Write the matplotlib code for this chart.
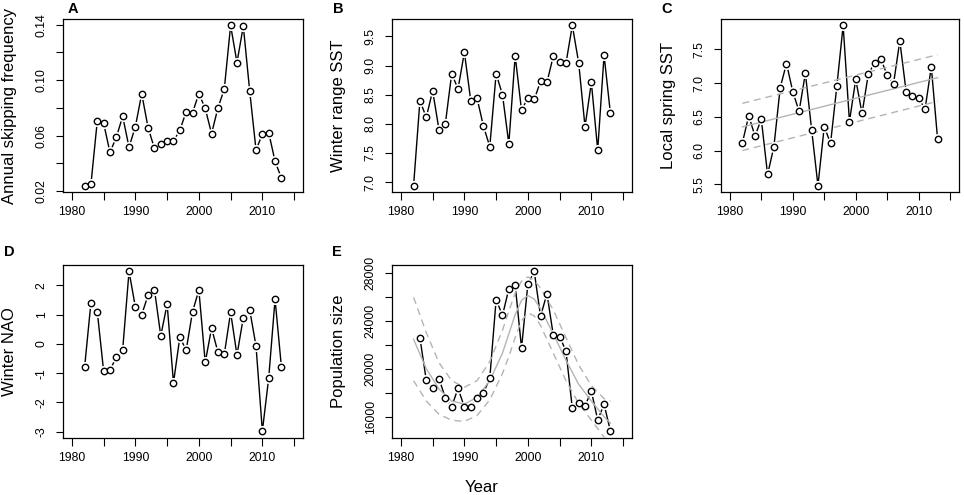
import matplotlib.pyplot as plt

plt.rcParams['font.family'] = ['Liberation Sans', 'DejaVu Sans']

# --- data ---
years = list(range(1982, 2014))

skipping = [0.0239, 0.0249, 0.0706, 0.0689, 0.0478, 0.0589, 0.0738, 0.0516,
            0.0665, 0.0901, 0.0658, 0.0507, 0.0541, 0.0560, 0.0560, 0.0638,
            0.0772, 0.0765, 0.0903, 0.0796, 0.0614, 0.0799, 0.0935, 0.1395,
            0.1127, 0.1390, 0.0923, 0.0497, 0.0609, 0.0621, 0.0414, 0.0293]

winter_range_sst = [6.94, 8.40, 8.11, 8.57, 7.90, 8.00, 8.86, 8.60,
                    9.23, 8.40, 8.44, 7.96, 7.61, 8.86, 8.50, 7.66,
                    9.17, 8.23, 8.45, 8.42, 8.73, 8.71, 9.16, 9.06,
                    9.04, 9.69, 9.05, 7.95, 8.71, 7.55, 9.18, 8.18]

spring_sst = [6.115, 6.515, 6.215, 6.465, 5.645, 6.055, 6.93, 7.29,
              6.875, 6.58, 7.145, 6.305, 5.48, 6.355, 6.105, 6.955,
              7.855, 6.43, 7.055, 6.55, 7.135, 7.30, 7.355, 7.115,
              6.99, 7.625, 6.875, 6.805, 6.78, 6.61, 7.24, 6.17]

winter_nao = [-0.80, 1.41, 1.10, -0.93, -0.885, -0.46, -0.195, 2.48,
              1.26, 1.00, 1.67, 1.86, 0.28, 1.36, -1.33, 0.23,
              -0.21, 1.10, 1.84, -0.63, 0.54, -0.28, -0.36, 1.08,
              -0.38, 0.90, 1.17, -0.07, -2.98, -1.16, 1.53, -0.79]

pop_years = list(range(1983, 2014))
pop_size = [22560, 19030, 18410, 19170, 17570, 16840, 18354, 16810,
            16840, 17513, 17960, 19195, 25757, 24440, 26654, 26990,
            21719, 27047, 28112, 24355, 26262, 22813, 22672, 21467,
            16700, 17177, 16897, 18130, 15718, 17036, 14793]

# trend line and band in panel C
sst_fit_years = [1982, 2013]
sst_fit = [6.35, 7.08]
sst_fit_hi = [6.70, 7.42]
sst_fit_lo = [6.00, 6.73]

# smooth trend and band in panel E
pop_fit_years = [1982, 1984, 1986, 1988, 1990, 1992, 1994, 1996, 1997,
                 1998, 1999, 2000, 2001, 2002, 2004, 2006, 2008, 2010,
                 2012, 2013]
pop_fit = [22450, 20000, 18300, 17300, 17050, 17600, 19000, 21300, 22900,
           24500, 25700, 26100, 25800, 25000, 22900, 20700, 18700, 17300,
           16000, 15450]
pop_fit_hi = [25950, 23000, 20500, 19000, 18450, 19000, 20600, 23200, 24800,
              26300, 27300, 27650, 27400, 26700, 24900, 22600, 20300, 18600,
              17500, 17300]
pop_fit_lo = [19000, 17300, 16200, 15700, 15600, 16100, 17400, 19600, 21000,
              22600, 24000, 24650, 24400, 23600, 21300, 19000, 17100, 15700,
              14300, 13600]

GREY = '#b4b4b4'
W, H = 964, 495


def r_range(v):
    lo, hi = min(v), max(v)
    d = (hi - lo) * 0.04
    return lo - d, hi + d


def make_axes(fig, left, top, right, bottom):
    return fig.add_axes([left / W, 1 - bottom / H, (right - left) / W, (bottom - top) / H])


def style(ax, yticks, ylabels, ylabel, yvals):
    ax.set_xlim(1978.6, 2016.4)
    ax.set_ylim(*r_range(yvals))
    ax.set_xticks(range(1980, 2016, 5))
    ax.set_xticklabels(['1980', '', '1990', '', '2000', '', '2010', ''])
    ax.set_yticks(yticks)
    ax.set_yticklabels(ylabels, rotation=90, va='center')
    ax.tick_params(direction='out', length=5.4, width=0.8, labelsize=8.8,
                   pad=5, color='black')
    ax.tick_params(axis='y', pad=5.5)
    for s in ax.spines.values():
        s.set_linewidth(0.9)
    ax.set_ylabel(ylabel, fontsize=12)
    ax.yaxis.set_label_coords(-0.19, 0.5)


def draw_series(ax, x, y):
    ax.plot(x, y, color='black', lw=1.0, zorder=2)
    ax.plot(x, y, 'o', ms=8, mfc='white', mec='none', zorder=3)
    ax.plot(x, y, 'o', ms=4.6, mfc='white', mec='black', mew=1.0, zorder=4)


fig = plt.figure(figsize=(W / 100, H / 100), dpi=100)

# A
ax = make_axes(fig, 63, 19, 303, 192)
draw_series(ax, years, skipping)
style(ax, [0.02, 0.04, 0.06, 0.08, 0.10, 0.12, 0.14],
      ['0.02', '', '0.06', '', '0.10', '', '0.14'],
      'Annual skipping frequency', skipping)

# B
ax = make_axes(fig, 392, 19, 632, 192)
draw_series(ax, years, winter_range_sst)
style(ax, [7.0, 7.5, 8.0, 8.5, 9.0, 9.5],
      ['7.0', '7.5', '8.0', '8.5', '9.0', '9.5'],
      'Winter range SST', winter_range_sst)

# C
ax = make_axes(fig, 721, 19, 959, 192)
draw_series(ax, years, spring_sst)
ax.plot(sst_fit_years, sst_fit, color=GREY, lw=1.0, zorder=3.5)
ax.plot(sst_fit_years, sst_fit_hi, color=GREY, lw=1.0, dashes=(5, 3.5), zorder=3.5)
ax.plot(sst_fit_years, sst_fit_lo, color=GREY, lw=1.0, dashes=(5, 3.5), zorder=3.5)
style(ax, [5.5, 6.0, 6.5, 7.0, 7.5],
      ['5.5', '6.0', '6.5', '7.0', '7.5'],
      'Local spring SST', spring_sst)

# D
ax = make_axes(fig, 63, 265, 303, 437.5)
draw_series(ax, years, winter_nao)
style(ax, [-3, -2, -1, 0, 1, 2],
      ['-3', '-2', '-1', '0', '1', '2'],
      'Winter NAO', winter_nao)

# E
ax = make_axes(fig, 392, 265, 632, 437.5)
draw_series(ax, pop_years, pop_size)
ax.plot(pop_fit_years, pop_fit, color=GREY, lw=1.0, zorder=3.5)
ax.plot(pop_fit_years, pop_fit_hi, color=GREY, lw=1.0, dashes=(5, 3.5), zorder=3.5)
ax.plot(pop_fit_years, pop_fit_lo, color=GREY, lw=1.0, dashes=(5, 3.5), zorder=3.5)
style(ax, [16000, 18000, 20000, 22000, 24000, 26000, 28000],
      ['16000', '', '20000', '', '24000', '', '28000'],
      'Population size', pop_size)

# panel letters
for letter, x, y in [('A', 73, 9), ('B', 338, 9), ('C', 667, 9),
                     ('D', 9, 252), ('E', 337, 252)]:
    fig.text(x / W, 1 - y / H, letter, fontsize=10.5, fontweight='bold',
             ha='center', va='center')

fig.text(482 / W, 1 - 487 / H, 'Year', fontsize=12, ha='center', va='center')

fig.savefig('out.png', dpi=100)
